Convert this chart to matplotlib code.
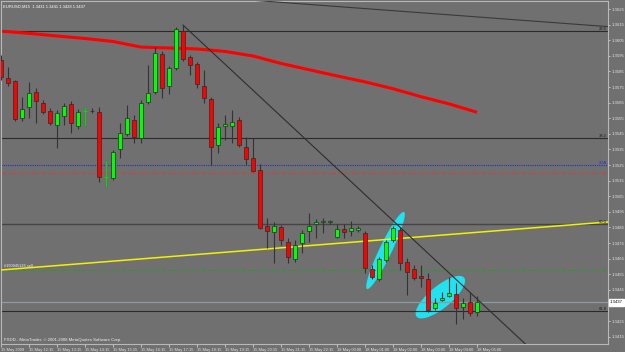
import matplotlib
matplotlib.use("Agg")
import matplotlib.pyplot as plt
import numpy as np
from matplotlib.patches import Polygon
from matplotlib.transforms import blended_transform_factory

# ---------------- data ----------------
title_text = "EURUSD,M15  1.3431 1.3441 1.3428 1.3437"
footer_text = "FXDD - MetaTrader, \u00a9 2001-2008 MetaQuotes Software Corp."
order_text = "#190945126 sell"

time_label_idx = [0, 4, 8, 12, 16, 20, 24, 28, 32, 36, 40, 44, 48, 52, 56, 60, 64, 68]
time_labels = ["15 May 2009", "15 May 12:15", "15 May 13:15", "15 May 14:15", "15 May 15:15",
               "15 May 16:15", "15 May 17:15", "15 May 18:15", "15 May 19:15", "15 May 20:15",
               "15 May 21:15", "15 May 22:15", "18 May 00:00", "18 May 01:00", "18 May 02:00",
               "18 May 03:00", "18 May 04:00", "18 May 05:00"]

price_ticks = [1.3625, 1.3615, 1.3605, 1.3595, 1.3585, 1.3575, 1.3565, 1.3555, 1.3545,
               1.3535, 1.3525, 1.3515, 1.3505, 1.3495, 1.3485, 1.3475, 1.3465, 1.3455,
               1.3445, 1.3425, 1.3415]

opens = [1.35923, 1.35808, 1.35788, 1.35551, 1.35622, 1.35718, 1.35647, 1.35596, 1.35506, 1.35564,
         1.35641, 1.35500, 1.35596, 1.35593, 1.35590, 1.35173, 1.35167, 1.35353, 1.35449, 1.35538,
         1.35423, 1.35654, 1.35718, 1.35962, 1.35756, 1.35872, 1.36109, 1.35942, 1.35897, 1.35756,
         1.35673, 1.35378, 1.35500, 1.35500, 1.35538, 1.35365, 1.35295, 1.35218, 1.34859, 1.34820,
         1.34853, 1.34756, 1.34647, 1.34750, 1.34827, 1.34872, 1.34885, 1.34885, 1.34788, 1.34840,
         1.34827, 1.34833, 1.34814, 1.34583, 1.34519, 1.34641, 1.34769, 1.34833, 1.34628, 1.34583,
         1.34539, 1.34519, 1.34333, 1.34385, 1.34410, 1.34423, 1.34340, 1.34372, 1.34310]
highs = [1.35955, 1.35878, 1.35795, 1.35686, 1.35782, 1.35744, 1.35667, 1.35615, 1.35603, 1.35647,
         1.35660, 1.35609, 1.35622, 1.35615, 1.35622, 1.35282, 1.35346, 1.35519, 1.35635, 1.35571,
         1.35667, 1.35891, 1.36006, 1.35981, 1.35885, 1.36135, 1.36147, 1.35955, 1.35910, 1.35859,
         1.35686, 1.35519, 1.35571, 1.35603, 1.35558, 1.35430, 1.35423, 1.35256, 1.34910, 1.34885,
         1.34865, 1.34782, 1.34769, 1.34833, 1.34942, 1.34904, 1.34910, 1.34897, 1.34872, 1.34872,
         1.34891, 1.34859, 1.34827, 1.34609, 1.34660, 1.34769, 1.34859, 1.34853, 1.34654, 1.34609,
         1.34609, 1.34558, 1.34397, 1.34436, 1.34532, 1.34494, 1.34397, 1.34436, 1.34410]
lows = [1.35795, 1.35756, 1.35532, 1.35532, 1.35551, 1.35519, 1.35577, 1.35506, 1.35359, 1.35506,
        1.35455, 1.35481, 1.35500, 1.35583, 1.35141, 1.35109, 1.35154, 1.35295, 1.35436, 1.35391,
        1.35391, 1.35641, 1.35705, 1.35680, 1.35705, 1.35859, 1.35917, 1.35827, 1.35744, 1.35647,
        1.35250, 1.35327, 1.35410, 1.35391, 1.35365, 1.35250, 1.35205, 1.34840, 1.34718, 1.34622,
        1.34737, 1.34622, 1.34628, 1.34686, 1.34756, 1.34782, 1.34814, 1.34872, 1.34782, 1.34782,
        1.34795, 1.34820, 1.34558, 1.34519, 1.34506, 1.34628, 1.34756, 1.34577, 1.34417, 1.34513,
        1.34468, 1.34308, 1.34321, 1.34378, 1.34404, 1.34231, 1.34263, 1.34282, 1.34280]
closes = [1.35814, 1.35776, 1.35545, 1.35609, 1.35712, 1.35660, 1.35590, 1.35519, 1.35583, 1.35628,
          1.35519, 1.35590, 1.35596, 1.35599, 1.35173, 1.35173, 1.35333, 1.35455, 1.35551, 1.35430,
          1.35647, 1.35712, 1.35968, 1.35744, 1.35872, 1.36122, 1.35930, 1.35891, 1.35769, 1.35680,
          1.35365, 1.35494, 1.35513, 1.35526, 1.35378, 1.35289, 1.35212, 1.34846, 1.34827, 1.34859,
          1.34769, 1.34660, 1.34737, 1.34814, 1.34859, 1.34885, 1.34891, 1.34891, 1.34840, 1.34820,
          1.34846, 1.34846, 1.34590, 1.34532, 1.34647, 1.34756, 1.34846, 1.34622, 1.34564, 1.34526,
          1.34526, 1.34321, 1.34365, 1.34397, 1.34429, 1.34333, 1.34365, 1.34301, 1.34370]

ma_idx = [0, 4, 8, 12, 16, 20, 24, 28, 32, 36, 40, 44, 48, 52, 56, 60, 64, 68]
ma_vals = [1.36108, 1.36094, 1.36077, 1.36061, 1.36042, 1.36006, 1.36000, 1.35994, 1.35978,
           1.35949, 1.35901, 1.35861, 1.35821, 1.35783, 1.35739, 1.35688, 1.35642, 1.35588]

fib_names = ["23.6", "38.2", "50.0", "61.8"]
fib_prices = [1.36109, 1.35423, 1.34869, 1.34314]
blue_level = 1.3525
blue_name = "2DA"
stop_level = 1.3520
order_level = 1.3458
bid_price = 1.3437

trend_x = [26, 80]
trend_y = [1.36147, 1.33890]
upper_x = [30, 87]
upper_y = [1.36326, 1.36136]
yellow_x = [0, 87]
yellow_y = [1.34577, 1.34886]

# ellipses: centre (bar, price), semi-axis vectors in (bars, price)
ell1 = dict(c=(54.93, 1.34702), a=(2.643, 0.002468), b=(0.798, -0.000172))
ell2 = dict(c=(62.76, 1.34403), a=(3.386, 0.00125), b=(0.998, -0.000544))

# ---------------- style ----------------
BG = "#707070"
TXT = "#e4e4e4"
FONT = ["Liberation Sans Narrow", "Liberation Sans", "DejaVu Sans"]
plt.rcParams["font.family"] = FONT

fig = plt.figure(figsize=(6.25, 3.52), dpi=100, facecolor=BG)
ax = fig.add_axes([1 / 625, 8 / 352, 607 / 625, 343 / 352], facecolor=BG)
ax.set_xlim(0, 607 / 7)
ax.set_ylim(1.341026, 1.363013)

# cyan ellipses
for e in (ell1, ell2):
    t = np.linspace(0, 2 * np.pi, 100)
    px = e["c"][0] + e["a"][0] * np.cos(t) + e["b"][0] * np.sin(t)
    py = e["c"][1] + e["a"][1] * np.cos(t) + e["b"][1] * np.sin(t)
    ax.add_patch(Polygon(np.column_stack([px, py]), closed=True, facecolor="#22e2f0",
                         edgecolor="none", zorder=1))

# horizontal levels
for name, p in zip(fib_names, fib_prices):
    ax.axhline(p, color="#454545" if name == "50.0" else "#2a2a2a",
               lw=1.0 if name == "50.0" else 0.8, zorder=2)
ax.axhline(blue_level, color="#2a2ad0", lw=0.8, ls=(0, (1, 1)), zorder=2)
ax.axhline(stop_level, color="#d04040", lw=0.8, ls=(0, (4, 2, 1, 2)), zorder=2)
ax.axhline(order_level, color="#2a9a2a", lw=0.8, ls=(0, (4, 2, 1, 2)), zorder=2)
ax.axhline(bid_price, color="#8c9aa8", lw=0.9, zorder=2)

# lines
ax.plot(ma_idx, ma_vals, color="#ff0000", lw=2.2, zorder=2, solid_capstyle="butt")
ax.plot(yellow_x, yellow_y, color="#f2f200", lw=1.1, zorder=3)
ax.plot(trend_x, trend_y, color="#2e2e2e", lw=0.8, zorder=3)
ax.plot(upper_x, upper_y, color="#3a3a3a", lw=0.8, zorder=3)

# candles
idx = np.arange(len(opens))
o = np.array(opens); h = np.array(highs); l = np.array(lows); c = np.array(closes)
ax.vlines(idx, l, h, color="#333333", lw=0.8, zorder=4)
up = c > o
dn = c < o
dj = c == o
ax.bar(idx[up], (c - o)[up], bottom=o[up], width=0.7, color="#00ff00",
       edgecolor="#2a2a2a", linewidth=0.5, zorder=5)
ax.bar(idx[dn], (o - c)[dn], bottom=c[dn], width=0.7, color="#ff0000",
       edgecolor="#2a2a2a", linewidth=0.5, zorder=5)
ax.vlines(idx[dj], l[dj], h[dj], color="#00e000", lw=0.8, zorder=5)
ax.hlines(o[dj], idx[dj] - 0.35, idx[dj] + 0.35, color="#00e000", lw=0.8, zorder=5)

# labels on levels
for name, p in zip(fib_names, fib_prices):
    ax.text(86.5, p, name, ha="right", va="bottom", fontsize=3.0, color="#1a1a1a", zorder=6)
ax.text(86.5, blue_level, blue_name, ha="right", va="bottom", fontsize=3.0, color="#2a2ad0", zorder=6)
ax.text(0.4, order_level + 0.00012, order_text, ha="left", va="bottom", fontsize=2.8,
        color="#f0f0f0", zorder=6)

# texts
ax.text(2 / 607, 1 - 6 / 343, title_text, transform=ax.transAxes, ha="left", va="center",
        fontsize=3.0, color="#ffffff", zorder=7)
ax.text(3 / 607, 4.5 / 343, footer_text, transform=ax.transAxes, ha="left", va="center",
        fontsize=3.1, color="#f0f0f0", zorder=7)

# price box
trans = blended_transform_factory(ax.transAxes, ax.transData)
ax.text(1.003, bid_price, "%.4f" % bid_price, transform=trans, ha="left", va="center",
        fontsize=3.1, color="#000000", clip_on=False, zorder=8,
        bbox=dict(boxstyle="square,pad=0.3", facecolor="#ffffff", edgecolor="#ffffff"))

# axes styling
for s in ax.spines.values():
    s.set_color("#b8b8b8")
    s.set_linewidth(0.8)
ax.yaxis.tick_right()
ax.set_yticks(price_ticks)
ax.set_yticklabels(["%.4f" % p for p in price_ticks])
ax.tick_params(axis="y", colors="#d0d0d0", labelcolor=TXT, labelsize=3.1, length=1.5,
               width=0.6, pad=1.2, direction="out")
ax.set_xticks(time_label_idx)
ax.set_xticklabels(time_labels, ha="left")
ax.tick_params(axis="x", colors="#d0d0d0", labelcolor=TXT, labelsize=2.9, length=2.5,
               width=0.6, pad=0.4, direction="out")

fig.savefig("out.png", dpi=100, facecolor=BG)
